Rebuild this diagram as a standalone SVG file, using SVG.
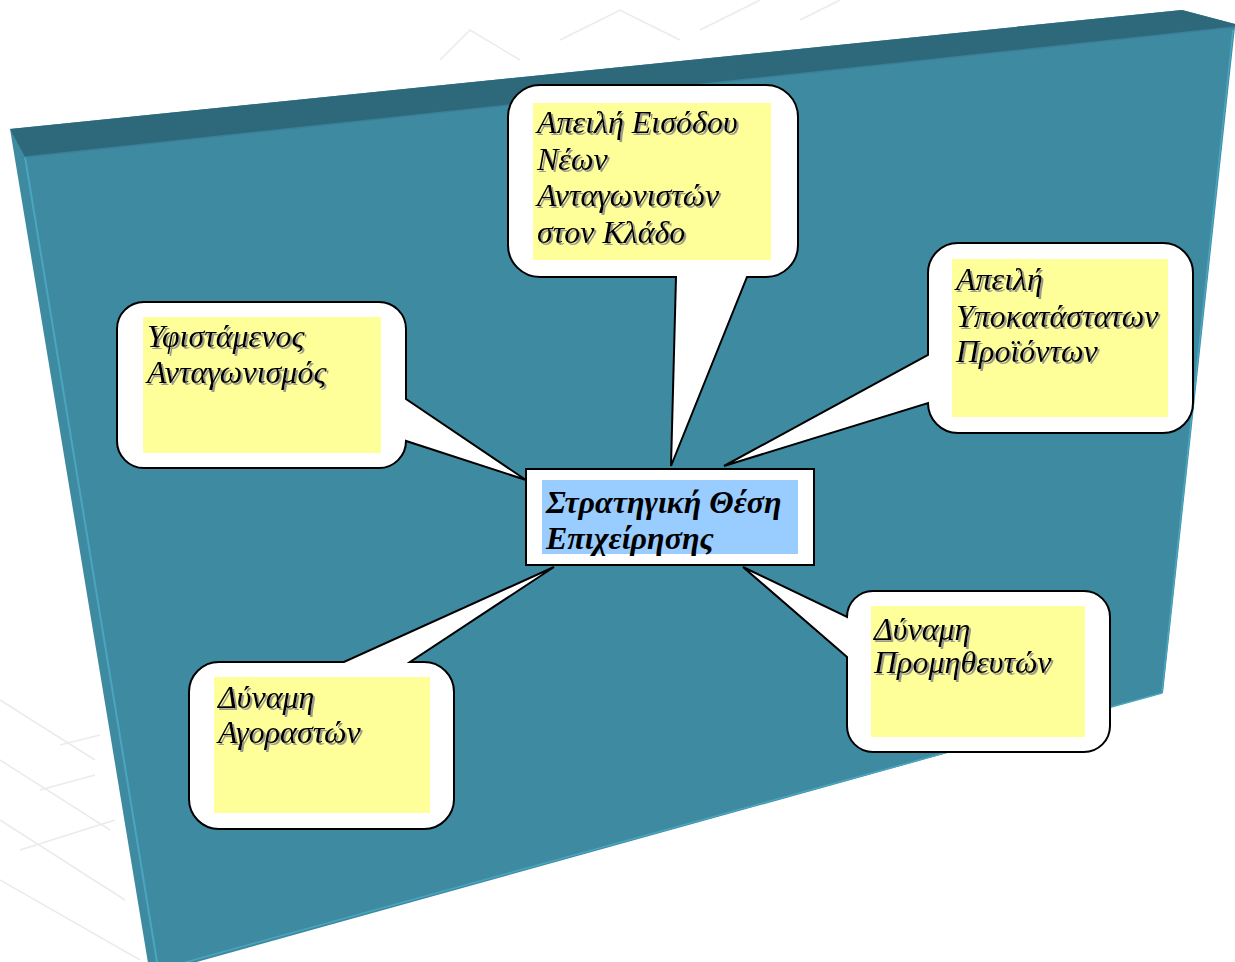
<svg xmlns="http://www.w3.org/2000/svg" width="1235" height="962" viewBox="0 0 1235 962">
  <defs>
    <filter id="txtShadow" x="-5%" y="-20%" width="115%" height="150%">
      <feDropShadow dx="2" dy="2" stdDeviation="0.7" flood-color="#8a8a8a" flood-opacity="0.85"/>
    </filter>
  </defs>
  <style>
    .bubble { fill: #ffffff; stroke: #000000; stroke-width: 2; stroke-linejoin: miter; }
    .note { fill: #ffff99; }
    .label { font-family: "Liberation Serif", "Times New Roman", serif; font-style: italic; font-size: 32px; fill: #000000; filter: url(#txtShadow); }
    .core { font-family: "Liberation Serif", "Times New Roman", serif; font-style: italic; font-weight: bold; font-size: 32px; fill: #000000; }
    .wm { fill: none; stroke: #ebebeb; stroke-width: 1.5; }
  </style>

  <rect width="1235" height="962" fill="#ffffff"/>

  <!-- faint background line art -->
  <g id="backdrop">
    <path class="wm" d="M0,700 L95,760 M0,760 L110,830 M0,820 L125,900 M0,880 L140,960 M60,745 L100,735 M40,790 L95,775 M20,850 L115,820"/>
    <path class="wm" d="M440,60 L470,30 L520,60 M560,40 L620,10 L680,40 M700,30 L760,0 M800,20 L840,0"/>
  </g>

  <!-- board -->
  <g id="board">
    <polygon points="10,129 1182,10 1235,24 1235,27 1163,693 150,975" fill="#3e8aa1"/>
    <polygon points="10,129 1182,10 1235,24 1235,27 25,157" fill="#2e697b"/>
    <line x1="25" y1="157" x2="157" y2="962" stroke="#4aa6c0" stroke-width="2"/>
    <line x1="25" y1="157" x2="1235" y2="27" stroke="#3a8099" stroke-width="1.5"/>
    <line x1="1233" y1="30" x2="1162" y2="692" stroke="#4aa6c0" stroke-width="1.5"/>
    <line x1="1162" y1="693" x2="150" y2="972" stroke="#4aa6c0" stroke-width="1.5"/>
  </g>

  <!-- callout bubbles with tails pointing at the centre box -->
  <g id="connectors">
    <path class="bubble" d="M540,85 H766 A32,32 0 0 1 798,117 V245 A32,32 0 0 1 766,277 H747 L671,466 L676,277 H540 A32,32 0 0 1 508,245 V117 A32,32 0 0 1 540,85 Z"/>
    <path class="bubble" d="M144,302 H379 A27,27 0 0 1 406,329 V399 L526,480 L406,441 A27,27 0 0 1 379,468 H144 A27,27 0 0 1 117,441 V329 A27,27 0 0 1 144,302 Z"/>
    <path class="bubble" d="M958,243 H1163 A30,30 0 0 1 1193,273 V403 A30,30 0 0 1 1163,433 H958 A30,30 0 0 1 928,403 L724,466 L928,355 V273 A30,30 0 0 1 958,243 Z"/>
    <path class="bubble" d="M219,662 H344 L554,567 L410,662 H424 A30,30 0 0 1 454,692 V799 A30,30 0 0 1 424,829 H219 A30,30 0 0 1 189,799 V692 A30,30 0 0 1 219,662 Z"/>
    <path class="bubble" d="M873,591 H1084 A26,26 0 0 1 1110,617 V726 A26,26 0 0 1 1084,752 H873 A26,26 0 0 1 847,726 V657 L743,567 L847,617 A26,26 0 0 1 873,591 Z"/>
  </g>

  <g id="node-new-entrants">
    <rect class="note" x="533" y="103" width="238" height="157"/>
    <text class="label" x="537" y="133">Απειλή Εισόδου</text>
    <text class="label" x="537" y="170">Νέων</text>
    <text class="label" x="537" y="206">Ανταγωνιστών</text>
    <text class="label" x="537" y="243">στον Κλάδο</text>
  </g>

  <g id="node-rivalry">
    <rect class="note" x="143" y="317" width="238" height="136"/>
    <text class="label" x="147" y="347">Υφιστάμενος</text>
    <text class="label" x="147" y="383">Ανταγωνισμός</text>
  </g>

  <g id="node-substitutes">
    <rect class="note" x="952" y="259" width="216" height="158"/>
    <text class="label" x="956" y="290">Απειλή</text>
    <text class="label" x="956" y="327">Υποκατάστατων</text>
    <text class="label" x="956" y="362">Προϊόντων</text>
  </g>

  <g id="node-buyers">
    <rect class="note" x="214" y="677" width="216" height="136"/>
    <text class="label" x="218" y="708">Δύναμη</text>
    <text class="label" x="218" y="743">Αγοραστών</text>
  </g>

  <g id="node-suppliers">
    <rect class="note" x="871" y="606" width="214" height="131"/>
    <text class="label" x="874" y="640">Δύναμη</text>
    <text class="label" x="874" y="673">Προμηθευτών</text>
  </g>

  <g id="node-position">
    <rect x="526" y="469" width="288" height="96" fill="#ffffff" stroke="#000000" stroke-width="2"/>
    <rect x="542" y="480" width="256" height="74" fill="#99ccff"/>
    <text class="core" x="546" y="513">Στρατηγική Θέση</text>
    <text class="core" x="546" y="549">Επιχείρησης</text>
  </g>
</svg>
